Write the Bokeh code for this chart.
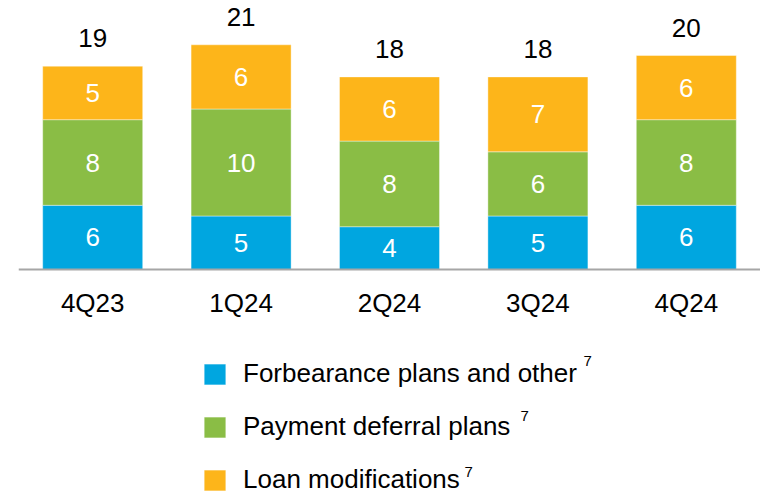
from bokeh.plotting import figure
from bokeh.models import (ColumnDataSource, FactorRange, Range1d, Legend, LegendItem,
                          CategoricalAxis, Label)
from bokeh.core.properties import value
from bokeh.embed import file_html
from bokeh.resources import INLINE

# ---- data ----
quarters = ["4Q23", "1Q24", "2Q24", "3Q24", "4Q24"]
forbearance = [6, 5, 4, 5, 6]
deferral = [8, 10, 8, 6, 8]
modifications = [5, 6, 6, 7, 6]
totals = [19, 21, 18, 18, 20]
series_names = ["Forbearance plans and other", "Payment deferral plans", "Loan modifications"]
footnote = "7"
colors = ["#00A6E0", "#8ABD45", "#FDB51A"]

FONT = value("Liberation Sans")

mid_f = [v / 2 for v in forbearance]
mid_d = [f + d / 2 for f, d in zip(forbearance, deferral)]
mid_m = [f + d + m / 2 for f, d, m in zip(forbearance, deferral, modifications)]
top = [f + d + m for f, d, m in zip(forbearance, deferral, modifications)]

src = ColumnDataSource(dict(
    q=quarters, f=forbearance, d=deferral, m=modifications,
    mid_f=mid_f, mid_d=mid_d, mid_m=mid_m, top=top,
    lab_f=[str(v) for v in forbearance], lab_d=[str(v) for v in deferral],
    lab_m=[str(v) for v in modifications], lab_t=[str(v) for v in totals],
))

p = figure(x_range=FactorRange(*quarters, range_padding=0), y_range=Range1d(-21.12, 25.14),
           width=760, height=495, output_backend="svg", toolbar_location=None,
           x_axis_location=None, y_axis_location=None,
           min_border_left=18, min_border_right=0, min_border_top=0, min_border_bottom=0)
p.outline_line_color = None
p.grid.visible = False
p.background_fill_color = "white"
p.border_fill_color = "white"

rs = p.vbar_stack(["f", "d", "m"], x="q", width=0.674, color=colors, source=src,
                  line_color="white", line_alpha=0.4, line_width=1)

for col, ycol in (("lab_f", "mid_f"), ("lab_d", "mid_d"), ("lab_m", "mid_m")):
    p.text(x="q", y=ycol, text=col, source=src, text_color="white", text_font=FONT,
           text_font_size="26px", text_align="center", text_baseline="middle")
p.text(x="q", y="top", text="lab_t", source=src, text_color="black", text_font=FONT,
       text_font_size="26px", text_align="center", text_baseline="alphabetic", y_offset=-28)

ax = CategoricalAxis(fixed_location=0)
ax.axis_line_color = "#A6A6A6"
ax.axis_line_width = 2
ax.major_tick_line_color = None
ax.minor_tick_line_color = None
ax.major_label_text_font = "Liberation Sans"
ax.major_label_text_font_size = "26px"
ax.major_label_text_color = "black"
ax.major_label_standoff = 12
p.add_layout(ax, "below")

legend = Legend(items=[LegendItem(label=n, renderers=[r]) for n, r in zip(series_names, rs)],
                location=(183, 0), orientation="vertical")
legend.border_line_color = None
legend.background_fill_alpha = 0
legend.padding = 0
legend.margin = 0
legend.spacing = 22
legend.glyph_width = 27
legend.glyph_height = 26
legend.label_standoff = 15
legend.label_text_font = "Liberation Sans"
legend.label_text_font_size = "26px"
legend.label_text_color = "black"
p.add_layout(legend)

for sx, sy in ((565, 140), (502, 85), (446, 29)):
    p.add_layout(Label(x=sx, y=sy, x_units="screen", y_units="screen", text=footnote,
                       text_font="Liberation Sans", text_font_size="15px",
                       text_color="black", text_baseline="top"))

open("out.html", "w").write(file_html(p, INLINE))
